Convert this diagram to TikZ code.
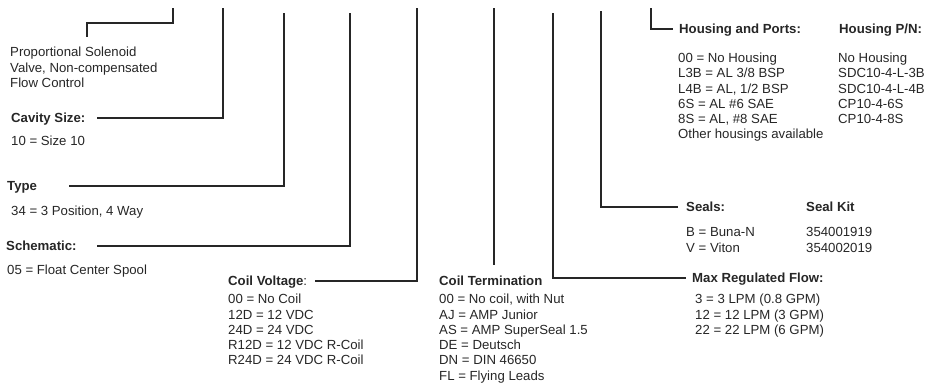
\documentclass[tikz,border=0pt]{standalone}
\usepackage{fontspec}
\setmainfont{Liberation Sans}
\definecolor{leadgray}{gray}{0.15}
\definecolor{inkgray}{gray}{0.15}
\usetikzlibrary{positioning}
\newcommand{\partfont}{\fontsize{13.2pt}{15.5pt}\selectfont}
\tikzset{
  lead/.style={draw=leadgray,line width=1.6pt},
  txt/.style={anchor=west,inner sep=0pt,text height=9.5pt,text depth=0pt,
              text=inkgray,font=\partfont},
  hdr/.style={txt,font=\partfont\bfseries},
}

\begin{document}
\begin{tikzpicture}[x=1pt,y=-1pt]
  \useasboundingbox (0,0) rectangle (934,386);
  % free ends of the leads at the top
  \coordinate (sol-top)  at (173,8);
  \coordinate (sol-bend) at (173,23);
  \coordinate (sol-end)  at (87,37);
  \coordinate (cav-top)  at (223,8);
  \coordinate (type-top) at (284,13);
  \coordinate (sch-top)  at (350,13);
  \coordinate (cv-top)   at (417,8);
  \coordinate (ct-top)   at (494,8);
  \coordinate (mrf-top)  at (553,13);
  \coordinate (seal-top) at (601,11);
  \coordinate (hp-top)   at (651,8);

  % left column
  \foreach \txt [count=\i] in {Proportional Solenoid,{Valve, Non-compensated},Flow Control}
    \node[txt] (sol-\i) at (10,{36.5+15.5*\i}) {\txt};
  \node[hdr] (cav) at (11,118) {Cavity Size:};
  \node[txt] (cav-1) at (11,141) {10 = Size 10};
  \node[hdr] (type) at (7,186) {Type};
  \node[txt] (type-1) at (11,211) {34 = 3 Position, 4 Way};
  \node[hdr] (sch) at (6,246) {Schematic:};
  \node[txt] (sch-1) at (7,270) {05 = Float Center Spool};

  % coil voltage
  \node[txt] (cv) at (228,281) {\textbf{Coil Voltage}:};
  \foreach \txt [count=\i] in {00 = No Coil,12D = 12 VDC,24D = 24 VDC,
      R12D = 12 VDC R-Coil,R24D = 24 VDC R-Coil}
    \node[txt] (cv-\i) at (228,{283.7+15.3*\i}) {\txt};

  % coil termination
  \node[hdr] (ct) at (439,281) {Coil Termination};
  \foreach \txt [count=\i] in {{00 = No coil, with Nut},AJ = AMP Junior,
      AS = AMP SuperSeal 1.5,DE = Deutsch,DN = DIN 46650,FL = Flying Leads}
    \node[txt] (ct-\i) at (439,{283.7+15.3*\i}) {\txt};

  % max regulated flow
  \node[hdr] (mrf) at (692,278) {Max Regulated Flow:};
  \foreach \txt [count=\i] in {3 = 3 LPM (0.8 GPM),12 = 12 LPM (3 GPM),22 = 22 LPM (6 GPM)}
    \node[txt] (mrf-\i) at (695,{283.5+15.5*\i}) {\txt};

  % seals
  \node[hdr] (seal) at (686,207) {Seals:};
  \node[hdr] (kit) at (806,207) {Seal Kit};
  \foreach \txt/\num [count=\i] in {B = Buna-N/354001919,V = Viton/354002019} {
    \node[txt] (seal-\i) at (686,{216+16*\i}) {\txt};
    \node[txt] (kit-\i) at (806,{216+16*\i}) {\num};
  }

  % housing and ports
  \node[hdr] (hp) at (679,29) {Housing and Ports:};
  \node[hdr] (pn) at (839,29) {Housing P/N:};
  \foreach \txt [count=\i] in {00 = No Housing,L3B = AL 3/8 BSP,{L4B = AL, 1/2 BSP},
      6S = AL \#6 SAE,{8S = AL, \#8 SAE},Other housings available}
    \node[txt] (hp-\i) at (678,{42.8+15.2*\i}) {\txt};
  \foreach \txt [count=\i] in {No Housing,SDC10-4-L-3B,SDC10-4-L-4B,CP10-4-6S,CP10-4-8S}
    \node[txt] (pn-\i) at (838,{42.8+15.2*\i}) {\txt};

  % leads
  \draw[lead] (sol-top) -- (sol-bend) -| (sol-end);
  \draw[lead] (cav-top) |- ([xshift=12pt]cav.east);
  \draw[lead] (type-top) |- ([xshift=32pt]type.east);
  \draw[lead] (sch-top) |- ([xshift=20pt]sch.east);
  \draw[lead] (cv-top) |- ([xshift=8pt]cv.east);
  \draw[lead,shorten >=11pt] (ct-top) -- (ct-top |- ct.north);
  \draw[lead] (mrf-top) |- ([xshift=-6pt]mrf.west);
  \draw[lead] (seal-top) |- ([xshift=-8pt]seal.west);
  \draw[lead] (hp-top) |- ([xshift=-6pt]hp.west);
\end{tikzpicture}
\end{document}
